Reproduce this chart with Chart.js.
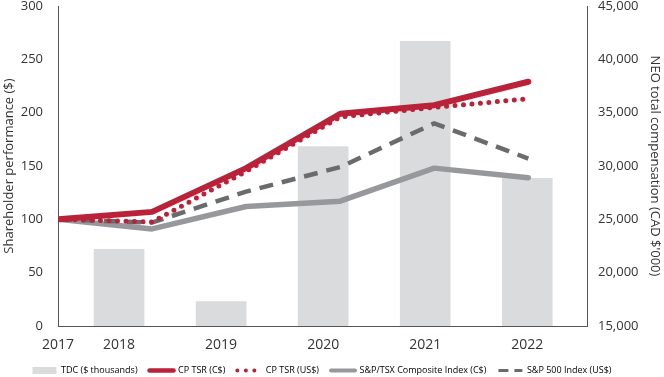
<!DOCTYPE html>
<html>
<head>
<meta charset="utf-8">
<script src="https://cdn.jsdelivr.net/npm/chart.js@4/dist/chart.umd.min.js"></script>
<style>
  body { margin: 0; background: #fff; }
  canvas { display: block; }
</style>
</head>
<body>
<canvas id="tsrchart" width="664" height="377"></canvas>
<script>
// years on the x axis (2017 is the base year, no bar)
const years = ['2017', '2018', '2019', '2020', '2021', '2022'];
// NEO total direct compensation, CAD $'000 (2018-2022)
const tdc = [22180, 17290, 31820, 41690, 28850];
// value of $100 invested
const cpTsrCad = [100, 107, 148, 199, 207, 229];
const cpTsrUsd = [100, 97.5, 145, 196, 205, 213];
const tsxIndex = [100, 91, 112, 117, 148, 139];
const sp500Index = [100, 97, 126, 149, 190, 157];
const leftTicks = [0, 50, 100, 150, 200, 250, 300];
const rightTicks = [15000, 20000, 25000, 30000, 35000, 40000, 45000];

// bars sit on a slightly wider grid than the line points
const barStart = 0.649, barStep = 1.085;
const barX = i => barStart + i * barStep;

const red = '#ba2239', midGray = '#97989b', darkGray = '#6a6b6d', barGray = '#dadbdc';

// legend in the original sits a little left of centre
const legendShift = {
  id: 'legendShift',
  afterLayout(chart) {
    chart.legend.left -= 10;
    chart.legend.right -= 10;
  }
};

const ctx = document.getElementById('tsrchart').getContext('2d');
const tsrchart = new Chart(ctx, {
  data: {
    datasets: [
      {
        type: 'line', label: 'CP TSR (C$)',
        data: cpTsrCad.map((v, i) => ({x: i, y: v})),
        borderColor: red, borderWidth: 6, borderCapStyle: 'round', borderJoinStyle: 'round',
        pointRadius: 0, order: 1, yAxisID: 'y'
      },
      {
        type: 'line', label: 'CP TSR (US$)',
        data: cpTsrUsd.map((v, i) => ({x: i, y: v})),
        borderColor: red, borderWidth: 5, borderCapStyle: 'round', borderDash: [0, 8.5],
        pointRadius: 0, order: 2, yAxisID: 'y'
      },
      {
        type: 'line', label: 'S&P 500 Index (US$)',
        data: sp500Index.map((v, i) => ({x: i, y: v})),
        borderColor: darkGray, borderWidth: 4.5, borderDash: [14, 9],
        pointRadius: 0, order: 3, yAxisID: 'y'
      },
      {
        type: 'line', label: 'S&P/TSX Composite Index (C$)',
        data: tsxIndex.map((v, i) => ({x: i, y: v})),
        borderColor: midGray, borderWidth: 5.5, borderCapStyle: 'round', borderJoinStyle: 'round',
        pointRadius: 0, order: 4, yAxisID: 'y'
      },
      {
        type: 'bar', label: 'TDC ($ thousands)',
        data: tdc.map((v, i) => ({x: barX(i), y: v})),
        backgroundColor: barGray, barThickness: 50,
        order: 5, yAxisID: 'y2'
      }
    ]
  },
  plugins: [legendShift],
  options: {
    responsive: false,
    animation: false,
    layout: { padding: { top: 6, right: 0, bottom: -8, left: 0 } },
    scales: {
      x: {
        type: 'linear', min: 0, max: 5.624, offset: false,
        grid: { display: false, offset: false },
        border: { display: true, color: '#555', width: 1 },
        afterBuildTicks: s => { s.ticks = [0, 1, 2, 3, 4, 5].map(i => ({value: i === 0 ? 0 : barX(i - 1)})); },
        ticks: {
          autoSkip: false, maxRotation: 0, padding: 3,
          color: '#333', font: { family: 'Open Sans', size: 14 },
          callback: (v, i) => years[i]
        },
        afterFit: s => { s.height = 28; s.paddingLeft = 0; s.paddingRight = 0; }
      },
      y: {
        position: 'left', min: 0, max: 300,
        grid: { display: false },
        border: { display: true, color: '#555', width: 1 },
        afterBuildTicks: s => { s.ticks = leftTicks.map(v => ({value: v})); },
        ticks: { color: '#333', padding: 7, font: { family: 'Open Sans', size: 13 } },
        title: {
          display: true, text: 'Shareholder performance ($)', color: '#333',
          font: { family: 'Open Sans', size: 13 }, padding: { top: 1, bottom: 0 }
        },
        afterFit: s => { s.width = 58; s.paddingTop = 0; s.paddingBottom = 0; }
      },
      y2: {
        position: 'right', min: 15000, max: 45000,
        grid: { display: false },
        border: { display: true, color: '#555', width: 1 },
        afterBuildTicks: s => { s.ticks = rightTicks.map(v => ({value: v})); },
        ticks: {
          color: '#333', padding: 3, font: { family: 'Open Sans', size: 13 },
          callback: v => v.toLocaleString('en-US')
        },
        title: {
          display: true, text: "NEO total compensation (CAD $'000)", color: '#333',
          font: { family: 'Open Sans', size: 13 }, padding: { top: 1, bottom: 0 }
        },
        afterFit: s => { s.width = 77; s.paddingTop = 0; s.paddingBottom = 0; }
      }
    },
    plugins: {
      tooltip: { enabled: false },
      legend: {
        position: 'bottom',
        labels: {
          color: '#333', font: { family: 'Open Sans', size: 9 },
          usePointStyle: true, boxWidth: 24, boxHeight: 7, pointStyleWidth: 24, padding: 12,
          generateLabels: () => [
            { text: 'TDC ($ thousands)', pointStyle: 'rect', fillStyle: barGray, strokeStyle: barGray, lineWidth: 0 },
            { text: 'CP TSR (C$)', pointStyle: 'line', strokeStyle: red, lineWidth: 4.5, lineCap: 'round' },
            { text: 'CP TSR (US$)', pointStyle: 'line', strokeStyle: red, lineWidth: 4, lineCap: 'round', lineDash: [0, 8.5] },
            { text: 'S&P/TSX Composite Index (C$)', pointStyle: 'line', strokeStyle: midGray, lineWidth: 4, lineCap: 'round' },
            { text: 'S&P 500 Index (US$)', pointStyle: 'line', strokeStyle: darkGray, lineWidth: 3, lineDash: [10, 6] }
          ]
        }
      }
    }
  }
});
</script>
</body>
</html>
